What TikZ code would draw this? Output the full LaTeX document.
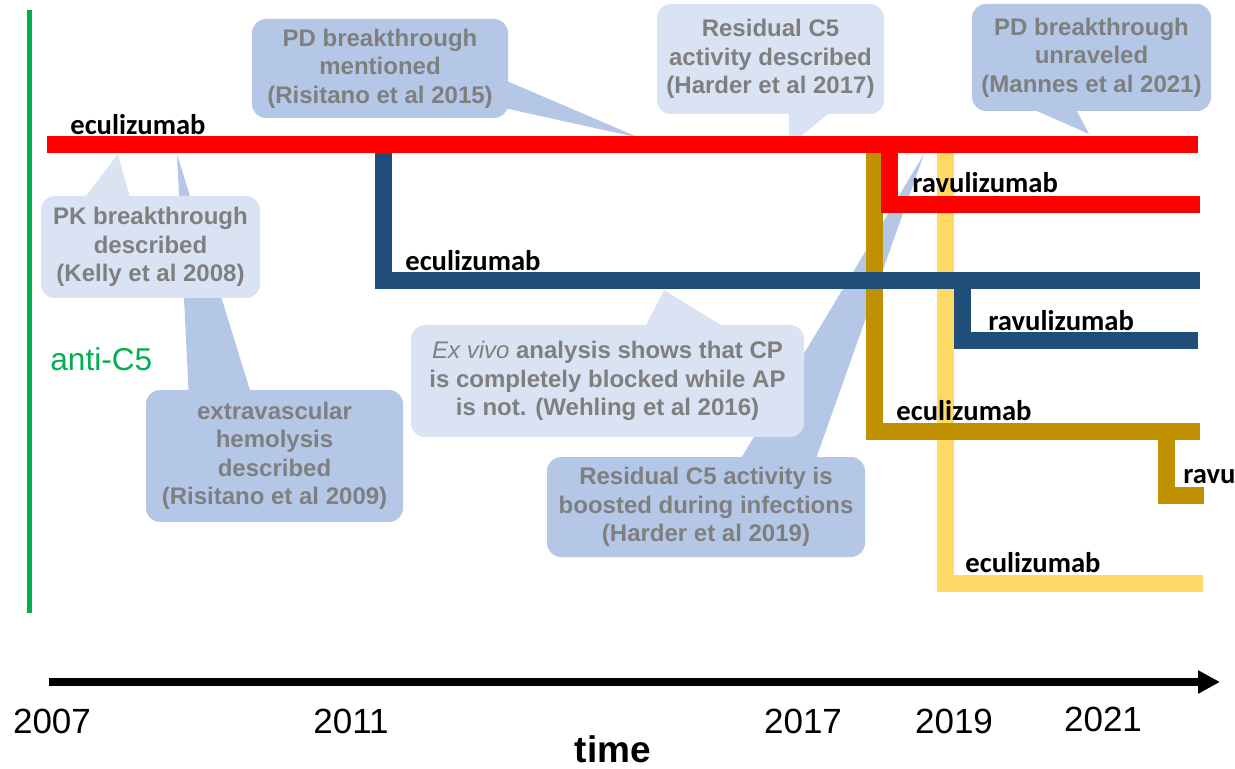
\documentclass[tikz,border=0pt]{standalone}
\usepackage{fontspec}
\setmainfont{Liberation Sans}
\newfontfamily\calibri{Carlito}
\usetikzlibrary{arrows.meta}
\definecolor{cgreen}{HTML}{00B050}
\definecolor{cblue}{HTML}{1F4E79}
\definecolor{cgold}{HTML}{BF9000}
\definecolor{clightgold}{HTML}{FFD966}
\definecolor{notelight}{HTML}{DAE3F3}
\definecolor{notedark}{HTML}{B4C7E7}
\definecolor{notegrey}{HTML}{7F7F7F}
\begin{document}
\begin{tikzpicture}[x=0.5pt, y=-0.5pt,
  lineage/.style={line width=8.5pt, line join=miter},
  drug/.style={font=\calibri\bfseries\fontsize{14.3}{16}\selectfont, anchor=base west, inner sep=0},
  note/.style={rounded corners=7pt, text=notegrey, font=\bfseries\fontsize{12}{14.25}\selectfont, align=center, inner sep=0},
  year/.style={font=\fontsize{17.5}{20}\selectfont, anchor=base}]
\useasboundingbox (0,0) rectangle (1235,769);
\fill [notedark] (924,154) -- (734,470) -- (812,470) -- cycle;
\fill [notedark] (177,154) -- (189,400) -- (253,400) -- cycle;
\node [note, fill=notedark, minimum width=128.5pt, minimum height=66pt] (hemolysis) at (274.5,456) {extravascular\\hemolysis\\described\\(Risitano et al 2009)};
\fill [notelight] (118,154) -- (79,205) -- (132,205) -- cycle;
\node [note, fill=notelight, minimum width=109.5pt, minimum height=51pt] (pk) at (150.5,247) {PK breakthrough\\described\\(Kelly et al 2008)};
\fill [notedark] (495,76) -- (640,138) -- (495,106) -- cycle;
\node [note, fill=notedark, minimum width=128pt, minimum height=49.5pt] (pdmentioned) at (380,68.5) {PD breakthrough\\mentioned\\(Risitano et al 2015)};
\fill [notelight] (664,290) -- (641,335) -- (737,335) -- cycle;
\node [note, fill=notelight, minimum width=196.5pt, minimum height=56pt] (exvivo) at (607.5,381) {{\mdseries\itshape Ex vivo} analysis shows that CP\\is completely blocked while AP\\is not. (Wehling et al 2016)};
\node [note, fill=notedark, minimum width=159pt, minimum height=50pt] (boosted) at (706,507) {Residual C5 activity is\\boosted during infections\\(Harder et al 2019)};
\fill [notelight] (789,100) -- (845,100) -- (800,137) -- (789,137) -- cycle;
\node [note, fill=notelight, minimum width=113.5pt, minimum height=55pt] (residual) at (770.5,59) {Residual C5\\activity described\\(Harder et al 2017)};
\fill [notedark] (1012,100) -- (1071,100) -- (1089,134) -- cycle;
\node [note, fill=notedark, minimum width=119.5pt, minimum height=53.5pt] (unraveled) at (1091.5,57.5) {PD breakthrough\\unraveled\\(Mannes et al 2021)};
\draw [line width=2.5pt, cgreen] (29,10) -- (29,613);
\node [anchor=base west, inner sep=0, text=cgreen, font=\fontsize{15.8}{18}\selectfont] (antic5) at (50,371) {anti-C5};
\draw [lineage, clightgold] (945,137) -- (945,583) -- (1203,583);
\draw [lineage, cgold] (874,137) -- (874,432) -- (1200,432);
\draw [lineage, cgold] (1166,432) -- (1166,495) -- (1204,495);
\draw [lineage, cblue] (383,137) -- (383,281) -- (1200,281);
\draw [lineage, cblue] (962,281) -- (962,341) -- (1198,341);
\draw [lineage, red] (889,145) -- (889,205) -- (1200,205);
\draw [lineage, red] (47,145) -- (1198,145);
\node [drug] (ecu1) at (70,135) {eculizumab};
\node [drug] (ecu2) at (405,271) {eculizumab};
\node [drug] (ravu1) at (912,193) {ravulizumab};
\node [drug] (ravu2) at (988,331) {ravulizumab};
\node [drug] (ecu3) at (896,421) {eculizumab};
\node [drug] (ravu3) at (1183,483) {ravu};
\node [drug] (ecu4) at (965,572) {eculizumab};
\draw [line width=4pt, -{Triangle[length=11pt, width=11pt]}] (49,682) -- (1220,682);
\node [year] (y2007) at (52,733) {2007};
\node [year] (y2011) at (351,733) {2011};
\node [year] (y2017) at (803,733) {2017};
\node [year] (y2019) at (954,733) {2019};
\node [year] (y2021) at (1103,731) {2021};
\node [anchor=base, font=\bfseries\fontsize{18.5}{20}\selectfont] (time) at (613,762) {time};
\end{tikzpicture}
\end{document}
